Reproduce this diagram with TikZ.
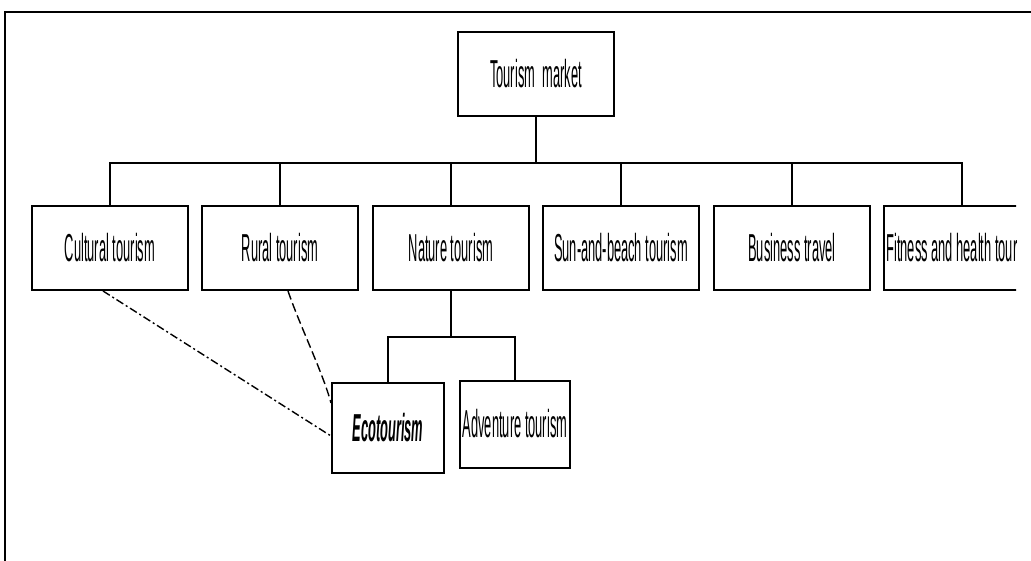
\documentclass[tikz,border=0pt]{standalone}
\usepackage{fontspec}
\newfontfamily\lblfont[FakeStretch=0.33]{Liberation Sans}
\begin{document}
\begin{tikzpicture}[x=1pt,y=-1pt,line width=2pt,
  box/.style={draw, rectangle, inner sep=0pt, minimum width=156pt, minimum height=84pt,
    font=\lblfont\fontsize{39}{44}\selectfont},
  dashdot/.style={line width=1.4pt, dash pattern=on 8pt off 3pt on 2pt off 3pt},
  dashlink/.style={line width=1.4pt, dash pattern=on 9pt off 4pt}]
\useasboundingbox (0,0) rectangle (1031,561);

% outer frame (top and left edges)
\draw (1031,12) -- (5,12) -- (5,561);

\begin{scope}
\clip (0,0) rectangle (1016,561);

% root
\node[box] (root) at (536,74) {Tourism~~market};
\coordinate (bus) at (536,163);

% first level
\node[box] (cult) at (110,248) {Cultural tourism};
\node[box] (rural) at (280,248) {Rural tourism};
\node[box] (nat) at (451,248) {Nature tourism};
\node[box] (sun) at (621,248) {Sun-and-beach tourism};
\node[box] (bus1) at (792,248) {Business travel};
\node[box] (fit) at (962,248) {Fitness and health tourism};

\draw (root.south) -- (bus);
\foreach \n in {cult,rural,nat,sun,bus1,fit}
  \draw (\n.north) |- (bus);

% nature tourism subtypes
\coordinate (nbus) at (451,337);
\node[box, minimum width=112pt, minimum height=90pt] (eco) at (388,428)
  {\bfseries\itshape Ecotourism};
\node[box, minimum width=110pt, minimum height=87pt] (adv) at (515,424)
  {Adventure tourism};
\draw (nat.south) -- (nbus);
\draw (eco.north) |- (nbus);
\draw (adv.north) |- (nbus);

% related forms
\draw[dashdot] ([xshift=-7pt]cult.south) -- ([yshift=-8pt]eco.west);
\draw[dashlink] ([xshift=8pt]rural.south) .. controls +(12,35) and +(-8,-30) .. ([yshift=25pt]eco.west);
\end{scope}
\end{tikzpicture}
\end{document}
